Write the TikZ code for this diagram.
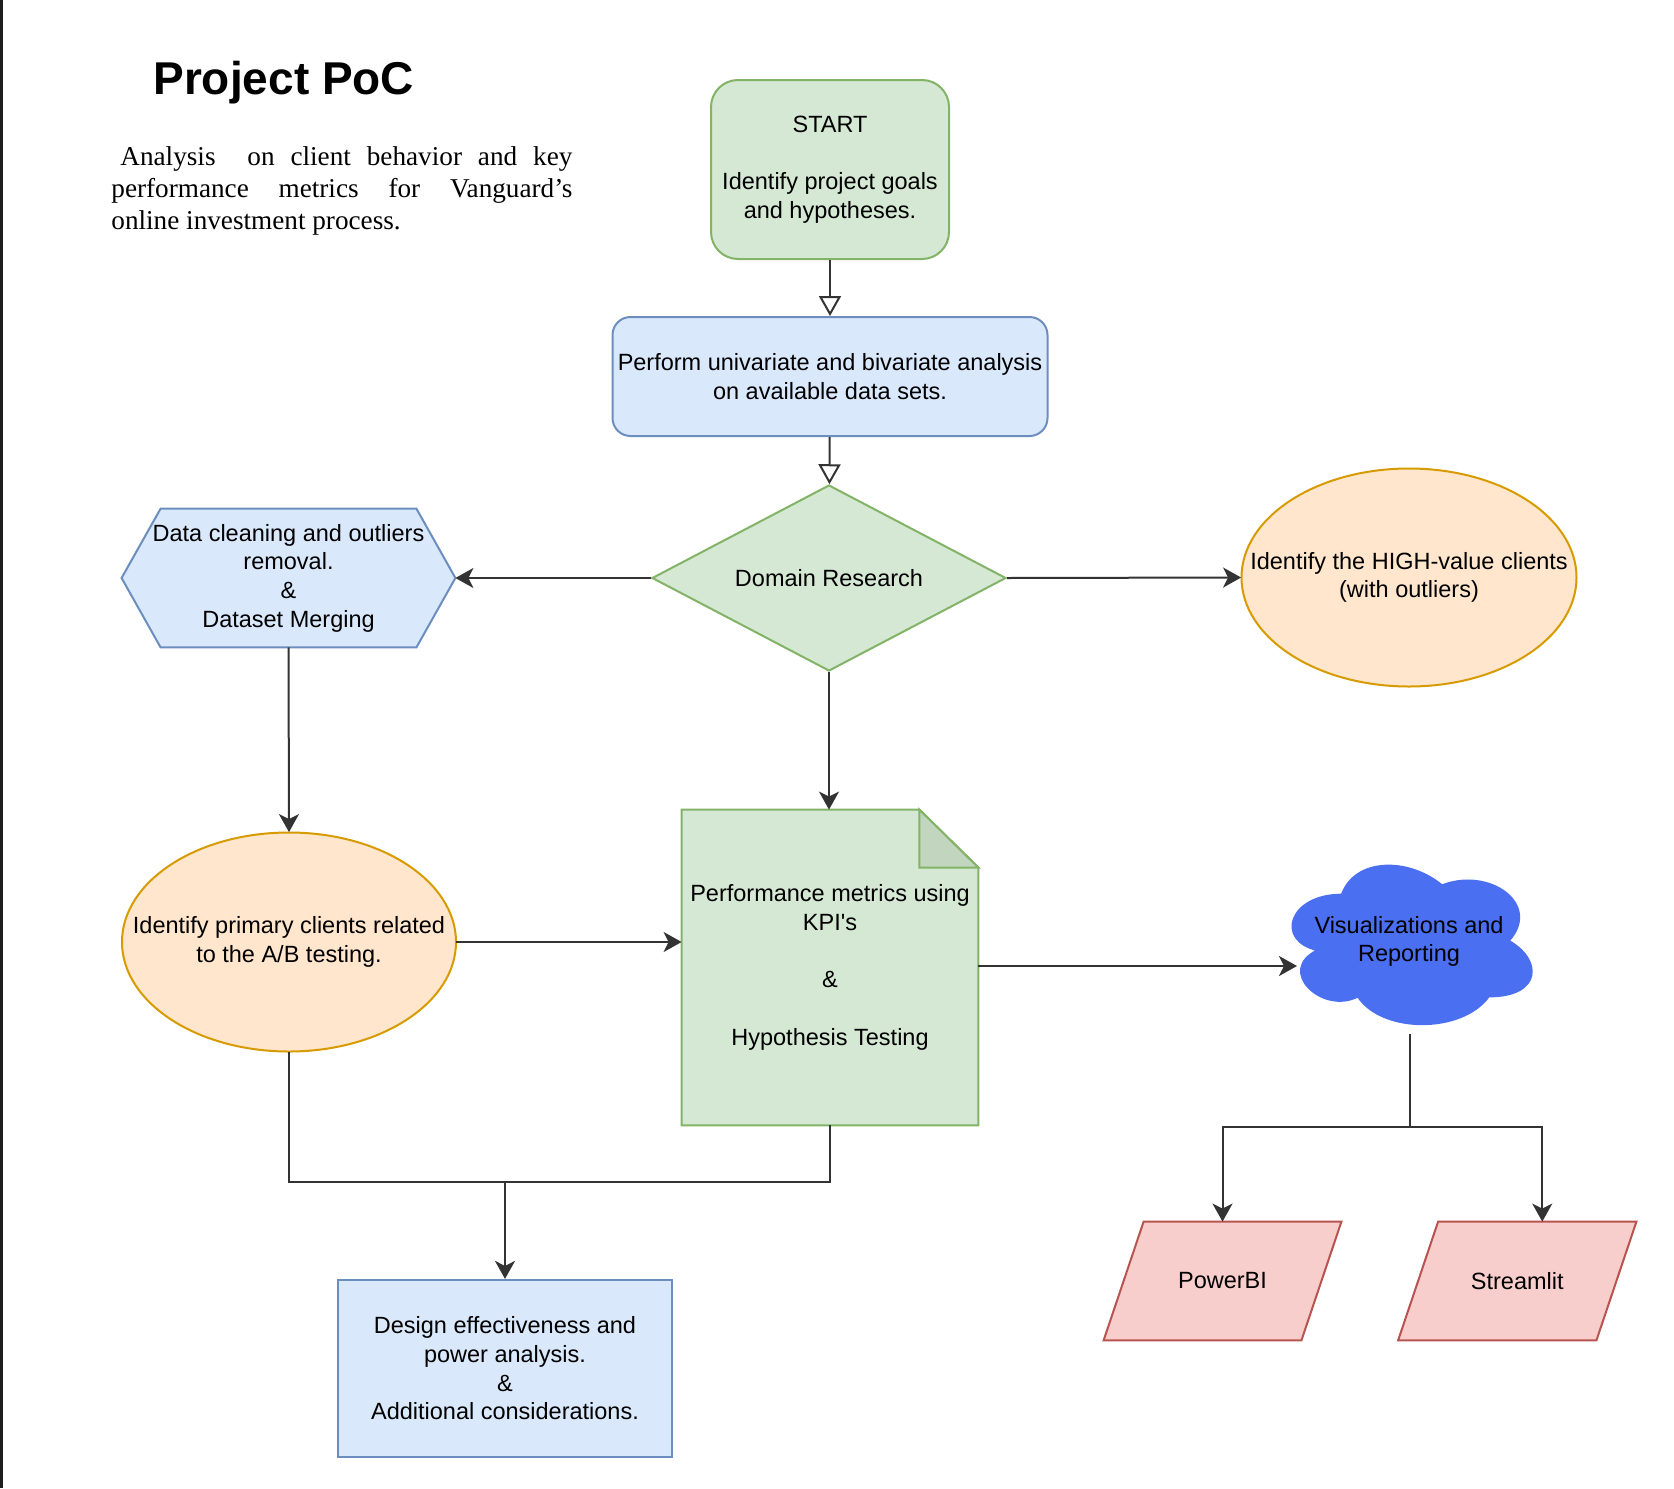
\documentclass[tikz,border=0pt]{standalone}
\usepackage{fontspec}
\setmainfont{Liberation Sans}
\newfontfamily\serifpara{Liberation Serif}
\usetikzlibrary{shapes.geometric,arrows.meta,backgrounds}
\definecolor{gfill}{HTML}{D5E8D4}
\definecolor{gline}{HTML}{82B366}
\definecolor{bfill}{HTML}{DAE8FC}
\definecolor{bline}{HTML}{6C8EBF}
\definecolor{ofill}{HTML}{FFE6CC}
\definecolor{oline}{HTML}{D79B00}
\definecolor{rfill}{HTML}{F8CECC}
\definecolor{rline}{HTML}{B85450}
\definecolor{cloudc}{HTML}{4A6FF0}
\definecolor{foldc}{HTML}{C2D6BF}
\definecolor{linec}{HTML}{333333}
\definecolor{stripc}{HTML}{1E1E1E}
\tikzset{
  txt/.style={font=\fontsize{11.75pt}{14.35pt}\selectfont, align=center, text=black, inner sep=0pt},
  shp/.style={line width=1pt},
  startbox/.style={txt, shp, draw=gline, fill=gfill, rounded corners=13.5pt, minimum width=119pt, minimum height=89.5pt},
  performbox/.style={txt, shp, draw=bline, fill=bfill, rounded corners=9pt, minimum width=217.5pt, minimum height=59.5pt},
  decision/.style={txt, shp, diamond, shape aspect=1.9, draw=gline, fill=gfill, minimum width=177pt, minimum height=93pt},
  designbox/.style={txt, shp, draw=bline, fill=bfill, minimum width=167.25pt, minimum height=88.4pt},
  bluepath/.style={shp, draw=bline, fill=bfill},
  greenpath/.style={shp, draw=gline, fill=gfill},
  redpath/.style={shp, draw=rline, fill=rfill},
  orangepath/.style={shp, draw=oline, fill=ofill},
  cline/.style={draw=linec, line width=1pt},
  arr/.style={cline, -{Stealth[length=9pt,width=10pt,inset=2.5pt]}},
  oarr/.style={cline, -{Triangle[open,length=10pt,width=11pt,fill=white]}},
}
\begin{document}
\begin{tikzpicture}[x=0.5pt,y=-0.5pt]
\useasboundingbox (0,0) rectangle (1674,1488);

% title and description
\node[anchor=base west, inner sep=0pt, font=\fontsize{23pt}{27pt}\selectfont\bfseries] (title) at (153,94.3) {Project PoC};
\node[anchor=base west, inner sep=0pt, text width=230.5pt, align=justify,
      font=\serifpara\fontsize{13.6pt}{16pt}\selectfont] (desc) at (111,165.7)
  {\hspace*{4.5pt}Analysis\ \ on client behavior and key\linebreak performance metrics for Vanguard’s\linebreak online investment process.};

% nodes
\node[startbox] (start) at (830,169.5) {START\\\mbox{}\\Identify project goals\\and hypotheses.};
\node[performbox] (perform) at (830,376.5) {Perform univariate and bivariate analysis\\on available data sets.};
\node[decision] (domain) at (829,578) {Domain Research};
\node[txt, minimum width=166.5pt, minimum height=69pt] (hex) at (288.5,578) {Data cleaning and outliers\\removal.\\\&\\Dataset Merging};
\node[txt, minimum width=167.5pt, minimum height=109pt] (high) at (1409,577.5) {Identify the HIGH-value clients\\(with outliers)};
\node[txt, minimum width=167pt, minimum height=109.5pt] (prim) at (289,942) {Identify primary clients related\\to the A/B testing.};
\node[txt, minimum width=148pt, minimum height=157.5pt] (doc) at (830,967.5) {Performance metrics using\\KPI\textquotesingle s\\\mbox{}\\\&\\\mbox{}\\Hypothesis Testing};
\node[txt, minimum width=133.5pt, minimum height=92.5pt] (cloud) at (1409,941.3) {Visualizations and\\Reporting};
\node[txt, minimum width=118.5pt, minimum height=59pt] (pbi) at (1222.5,1281) {PowerBI};
\node[txt, minimum width=118.75pt, minimum height=59pt] (strm) at (1517.25,1281) {Streamlit};
\node[designbox] (design) at (505,1368.3) {Design effectiveness and\\power analysis.\\\&\\Additional considerations.};

% drawn shapes behind text
\begin{scope}[on background layer]
  \fill[white] (0,0) rectangle (1674,1488);
  \fill[stripc] (0,0) rectangle (3,1488);
  \filldraw[bluepath] (hex.west) -- ([xshift=19.5pt]hex.north west) -- ([xshift=-19.5pt]hex.north east)
     -- (hex.east) -- ([xshift=-19.5pt]hex.south east) -- ([xshift=19.5pt]hex.south west) -- cycle;
  \filldraw[orangepath] (high.center) ellipse [x radius=83.75pt, y radius=54.5pt];
  \filldraw[orangepath] (prim.center) ellipse [x radius=83.5pt, y radius=54.75pt];
  \filldraw[greenpath] (doc.south west) -- (doc.north west) -- ([xshift=-29.5pt]doc.north east)
     -- ([yshift=-29pt]doc.north east) -- (doc.south east) -- cycle;
  \filldraw[greenpath, fill=foldc] ([xshift=-29.5pt]doc.north east) -- ([xshift=-29.5pt,yshift=-29pt]doc.north east)
     -- ([yshift=-29pt]doc.north east) -- cycle;
  \filldraw[redpath] ([xshift=20pt]pbi.north west) -- (pbi.north east) -- ([xshift=-20pt]pbi.south east) -- (pbi.south west) -- cycle;
  \filldraw[redpath] ([xshift=20pt]strm.north west) -- (strm.north east) -- ([xshift=-20pt]strm.south east) -- (strm.south west) -- cycle;
  \begin{scope}[shift={(cloud.north west)}, x=133.5pt, y=-92.5pt]
    \filldraw[fill=cloudc, draw=cloudc, line width=1pt]
      (0.25,0.25) .. controls (0.05,0.25) and (0,0.5) .. (0.16,0.55)
      .. controls (0,0.66) and (0.18,0.9) .. (0.31,0.8)
      .. controls (0.4,1) and (0.7,1) .. (0.8,0.8)
      .. controls (1,0.8) and (1,0.6) .. (0.875,0.5)
      .. controls (1,0.3) and (0.8,0.1) .. (0.625,0.2)
      .. controls (0.5,0.05) and (0.3,0.05) .. (0.25,0.25) -- cycle;
  \end{scope}
\end{scope}

% connectors
\draw[oarr] (start) -- (perform);
\draw[oarr] (perform) -- (domain);
\draw[arr] (domain.west) -- (hex.east);
\draw[arr] (domain.east) -- (high.west);
\draw[arr] (domain.south) -- (doc.north -| domain.south);
\draw[arr] (hex.south) -- (prim.north);
\draw[arr] (prim.east) -- (prim.east -| doc.west);
\coordinate (cloudin) at (1297,966);
\draw[arr] (doc.east |- cloudin) -- (cloudin);
\coordinate (merge) at (505,1182);
\draw[cline] (prim.south) |- (doc.south |- merge) -- (doc.south);
\draw[arr] (merge) -- (design.north);
\coordinate (split) at (1410,1127);
\draw[cline] (cloud.south -| split) -- (split);
\draw[arr] (split) -| (pbi.north);
\draw[arr] (split) -| ([xshift=12.5pt]strm.north);
\end{tikzpicture}
\end{document}
